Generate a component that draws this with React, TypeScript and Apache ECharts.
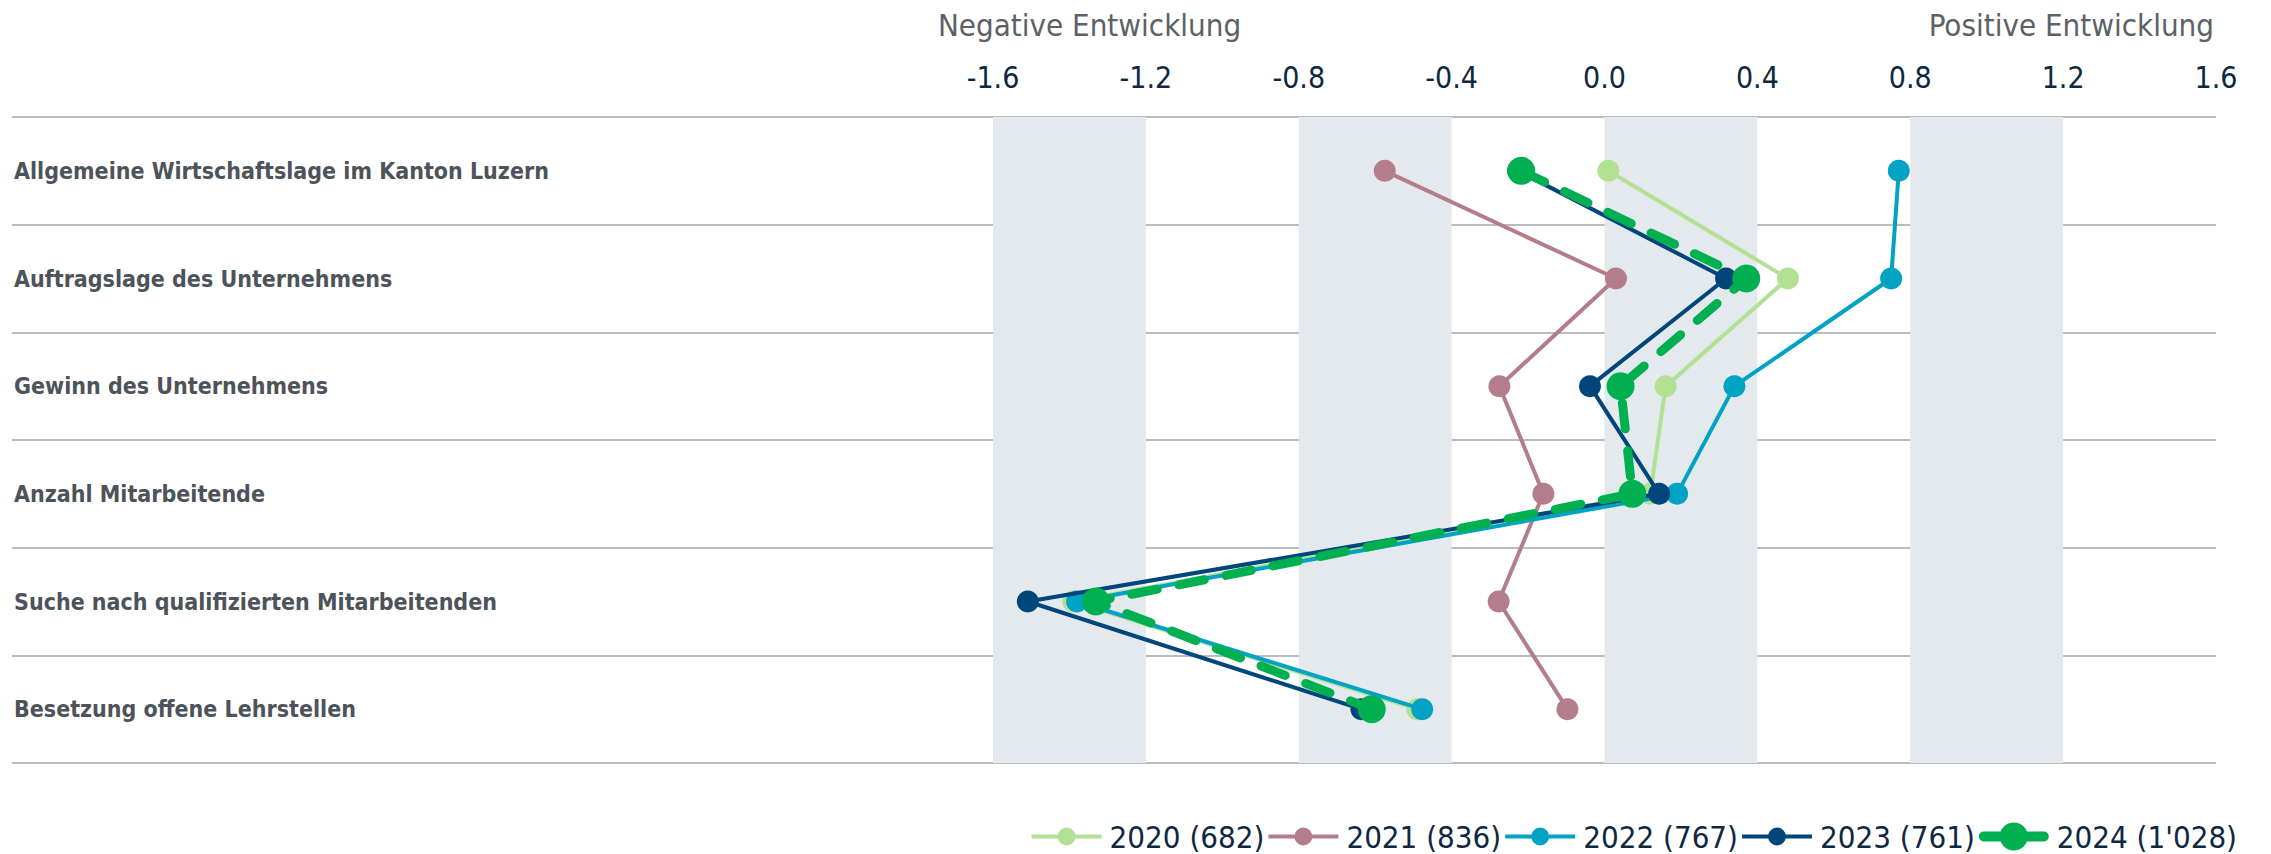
import React, { useEffect, useRef } from "react";
import * as echarts from "echarts";

const categories = [
  "Allgemeine Wirtschaftslage im Kanton Luzern",
  "Auftragslage des Unternehmens",
  "Gewinn des Unternehmens",
  "Anzahl Mitarbeitende",
  "Suche nach qualifizierten Mitarbeitenden",
  "Besetzung offene Lehrstellen",
];

const seriesNames = ["2020 (682)", "2021 (836)", "2022 (767)", "2023 (761)", "2024 (1'028)"];

const values2020 = [0.01, 0.48, 0.16, 0.12, -1.39, -0.49];
const values2021 = [-0.575, 0.03, -0.275, -0.16, -0.277, -0.097];
const values2022 = [0.77, 0.75, 0.34, 0.19, -1.38, -0.477];
const values2023 = [-0.226, 0.318, -0.038, 0.143, -1.509, -0.636];
const values2024 = [-0.218, 0.371, 0.042, 0.073, -1.331, -0.609];

const xTicks = { min: -1.6, max: 1.6, interval: 0.4 };

const seriesColors = ["#b2e194", "#b37d8b", "#00a3c4", "#00467a", "#00b050"];

const FONT = '"DejaVu Sans Condensed", "DejaVu Sans", sans-serif';

// legend icons: line with a circle marker
const ICON_THIN =
  "path://M0 7H28V11H0Z M42 7H70V11H42Z M26 9A9 9 0 1 1 44 9A9 9 0 1 1 26 9Z";
const ICON_THICK =
  "path://M5 9H31V19H5A5 5 0 0 1 5 9Z M39 9H65A5 5 0 0 1 65 19H39Z M21 14A14 14 0 1 1 49 14A14 14 0 1 1 21 14Z";

export default function App() {
  const ref = useRef<HTMLDivElement>(null);

  useEffect(() => {
    if (!ref.current) return;
    const chart = echarts.init(ref.current, undefined, { renderer: "svg" });
    const allValues = [values2020, values2021, values2022, values2023, values2024];

    const series = allValues.map((vals, i) => {
      const isLast = i === allValues.length - 1;
      return {
        name: seriesNames[i],
        type: "line",
        xAxisIndex: 1,
        yAxisIndex: 1,
        data: vals,
        symbol: "circle",
        symbolSize: isLast ? 28 : 22,
        z: 3 + i,
        itemStyle: { color: seriesColors[i] },
        lineStyle: isLast
          ? { color: seriesColors[i], width: 9, type: [26, 22], cap: "round" }
          : { color: seriesColors[i], width: 4 },
        emphasis: { disabled: true },
      };
    });

    chart.setOption({
      animation: false,
      textStyle: { fontFamily: FONT },
      grid: [
        { left: 12, right: 55, top: 117, bottom: 91 },
        { left: 993, right: 55, top: 117, bottom: 91 },
      ],
      xAxis: [
        { gridIndex: 0, type: "value", show: false, min: 0, max: 1 },
        {
          gridIndex: 1,
          type: "value",
          position: "top",
          min: xTicks.min,
          max: xTicks.max,
          interval: xTicks.interval,
          z: 1,
          axisLine: { show: false },
          axisTick: { show: false },
          splitLine: { show: false },
          splitArea: {
            show: true,
            areaStyle: { color: ["#e4e9ee", "rgba(255,255,255,0)"] },
          },
          axisLabel: {
            formatter: (v: number) => v.toFixed(1),
            fontSize: 30,
            color: "#0e2841",
            fontFamily: FONT,
            margin: 25,
          },
        },
      ],
      yAxis: [
        {
          gridIndex: 0,
          type: "category",
          inverse: true,
          data: categories,
          z: 0,
          axisLine: { show: false },
          axisTick: { show: false },
          splitLine: { show: true, lineStyle: { color: "#b9bdc1", width: 2 } },
          axisLabel: {
            inside: true,
            margin: 2,
            fontSize: 23,
            fontWeight: "bold",
            color: "#4d535a",
            fontFamily: FONT,
            padding: [10, 0, 0, 0],
          },
        },
        {
          gridIndex: 1,
          type: "category",
          inverse: true,
          data: categories,
          show: false,
        },
      ],
      legend: {
        right: 34,
        top: 821,
        itemWidth: 70,
        itemHeight: 28,
        itemGap: 4,
        padding: 0,
        symbolKeepAspect: true,
        textStyle: { fontSize: 31, color: "#0e2841", fontFamily: FONT, padding: [0, 0, 0, 3] },
        data: seriesNames.map((n, i) => ({
          name: n,
          icon: i === seriesNames.length - 1 ? ICON_THICK : ICON_THIN,
          itemStyle: { color: seriesColors[i] },
        })),
      },
      graphic: [
        {
          type: "text",
          left: 938,
          top: 9,
          style: { text: "Negative Entwicklung", fontSize: 31, fill: "#5c6166", fontFamily: FONT },
        },
        {
          type: "text",
          right: 57,
          top: 9,
          style: { text: "Positive Entwicklung", fontSize: 31, fill: "#5c6166", fontFamily: FONT },
        },
      ],
      series,
    });

    return () => chart.dispose();
  }, []);

  return (
    <div
      ref={ref}
      style={{ position: "fixed", left: 0, top: 0, width: 2271, height: 854, background: "#ffffff" }}
    />
  );
}
